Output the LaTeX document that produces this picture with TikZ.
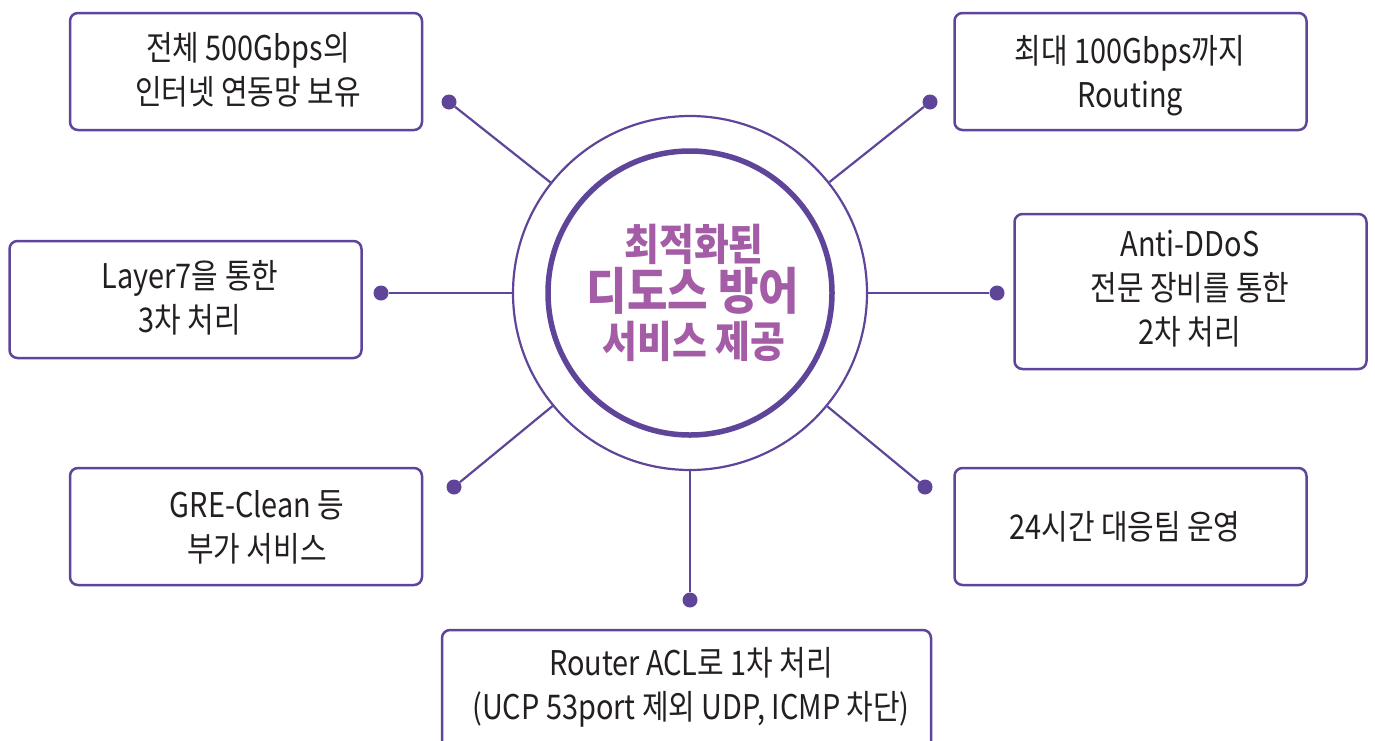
\documentclass[tikz,border=0pt]{standalone}
\usepackage{fontspec}
\setmainfont{Noto Sans CJK KR}[FakeStretch=0.85]
\newfontfamily\ctrfont{Noto Sans CJK KR}[FakeStretch=0.88]
\definecolor{pur}{HTML}{5F4599}
\definecolor{pink}{HTML}{A35CA5}
\definecolor{txtc}{HTML}{231F20}
\begin{document}
\begin{tikzpicture}[x=1pt,y=-1pt,
  box/.style={draw=pur, line width=2.5pt, rounded corners=8pt, fill=white, inner sep=0pt},
  txt/.style={align=center, font=\fontsize{34}{44}\selectfont, text=txtc, inner sep=0pt},
  dotn/.style={circle, fill=pur, inner sep=0pt, minimum size=15pt},
  conn/.style={draw=pur, line width=2.2pt},
  ctr/.style={text=pink, inner sep=0pt, anchor=base}]
\useasboundingbox (0,0) rectangle (1375,740);
\clip (0,0) rectangle (1375,740);
% boxes
\node[box, minimum width=352pt, minimum height=117pt] (b1) at (246,71.5) {};
\node[box, minimum width=352pt, minimum height=117pt] (b2) at (1130.5,71.5) {};
\node[box, minimum width=352pt, minimum height=117pt] (b3) at (185.5,299.5) {};
\node[box, minimum width=352pt, minimum height=155pt] (b4) at (1190.5,291.5) {};
\node[box, minimum width=352pt, minimum height=117pt] (b5) at (246,526.5) {};
\node[box, minimum width=352pt, minimum height=117pt] (b6) at (1130.5,526.5) {};
\node[box, minimum width=489pt, minimum height=140pt] (b7) at (686.5,700) {};
% texts
\node[txt] (t1) at (248,70) {전체 500Gbps의\\인터넷 연동망 보유};
\node[txt] (t2) at (1130,76) {최대 100Gbps까지\\Routing};
\node[txt] (t3) at (190,298) {Layer7을 통한\\3차 처리};
\node[txt] (t4) at (1190,289) {Anti-DDoS\\전문 장비를 통한\\2차 처리};
\node[txt] (t5) at (257,527) {GRE-Clean 등\\부가 서비스};
\node[txt] (t6) at (1125,527) {24시간 대응팀 운영};
\node[txt] (t7) at (691,687) {Router ACL로 1차 처리\\(UCP 53port 제외 UDP, ICMP 차단)};
% center
\node[circle, draw=pur, line width=2.2pt, minimum size=354pt, inner sep=0pt] (c) at (690,293) {};
\node[circle, draw=pur, line width=5.5pt, minimum size=284pt, inner sep=0pt] (ci) at (690,293) {};
\node[ctr, font=\ctrfont\bfseries\fontsize{43}{43}\selectfont] (l1) at (694,260) {최적화된};
\node[ctr, font=\ctrfont\bfseries\fontsize{50}{50}\selectfont] (l2) at (693,309) {디도스 방어};
\node[ctr, font=\ctrfont\bfseries\fontsize{43}{43}\selectfont] (l3) at (694,357) {서비스 제공};
% dots
\node[dotn] (d1) at (449,102) {};
\node[dotn] (d2) at (930,102) {};
\node[dotn] (d3) at (381,293) {};
\node[dotn] (d4) at (997,293) {};
\node[dotn] (d5) at (454,487) {};
\node[dotn] (d6) at (925,487) {};
\node[dotn] (d7) at (690,600) {};
\foreach \d in {d1,d2,d3,d4,d5,d6,d7} {\draw[conn] (c) -- (\d);}
\end{tikzpicture}
\end{document}
